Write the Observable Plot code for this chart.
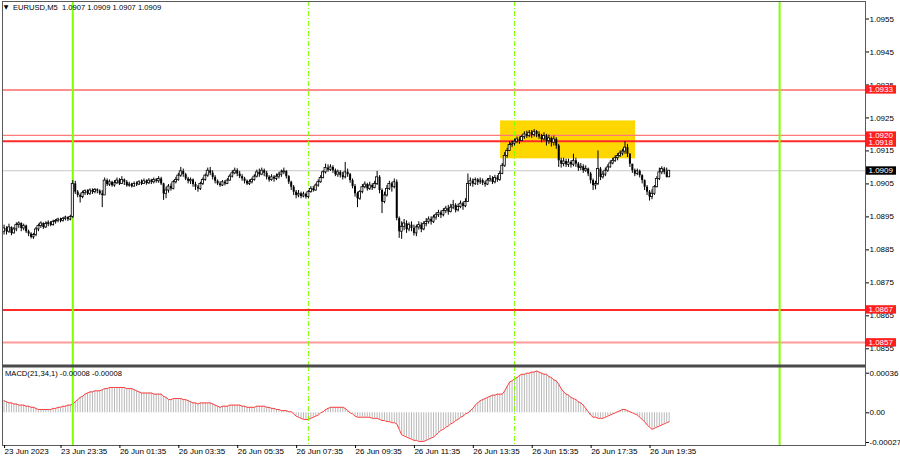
<!DOCTYPE html>
<html><head><meta charset="utf-8">
<script src="https://cdn.jsdelivr.net/npm/d3@7"></script>
<script src="https://cdn.jsdelivr.net/npm/@observablehq/plot@0.6"></script>
<style>
html,body{margin:0;padding:0;background:#fff;}
#wrap{position:relative;width:900px;height:460px;overflow:hidden;}
#wrap svg{display:block;}
</style></head><body><div id="wrap"></div>
<script>
// ---- data: EURUSD M5 bars (bar index 0 = 23 Jun 21:40) ----
const open = [
1.08905,1.08915,1.08905,1.08918,1.08900,1.08912,1.08925,1.08930,1.08915,1.08922,
1.08905,1.08898,1.08888,1.08895,1.08912,1.08922,1.08930,1.08918,1.08928,1.08932,
1.08925,1.08935,1.08938,1.08942,1.08938,1.08944,1.08948,1.08942,1.08950,1.09050,
1.09025,1.09015,1.09010,1.09022,1.09028,1.09020,1.09030,1.09025,1.09032,1.09028,
1.09020,1.09015,1.09060,1.09048,1.09055,1.09045,1.09052,1.09060,1.09050,1.09062,
1.09055,1.09045,1.09048,1.09042,1.09050,1.09048,1.09055,1.09050,1.09058,1.09052,
1.09060,1.09055,1.09062,1.09058,1.09065,1.09050,1.09020,1.09030,1.09042,1.09035,
1.09055,1.09062,1.09075,1.09088,1.09078,1.09065,1.09058,1.09062,1.09048,1.09040,
1.09035,1.09050,1.09062,1.09075,1.09090,1.09082,1.09070,1.09058,1.09050,1.09045,
1.09055,1.09050,1.09060,1.09072,1.09082,1.09090,1.09080,1.09072,1.09065,1.09058,
1.09050,1.09055,1.09062,1.09072,1.09085,1.09078,1.09090,1.09082,1.09070,1.09062,
1.09070,1.09065,1.09072,1.09078,1.09085,1.09088,1.09072,1.09055,1.09040,1.09025,
1.09015,1.09020,1.09012,1.09018,1.09010,1.09025,1.09035,1.09030,1.09045,1.09055,
1.09068,1.09085,1.09098,1.09092,1.09100,1.09090,1.09078,1.09085,1.09075,1.09070,
1.09085,1.09078,1.09060,1.09042,1.09020,1.09005,1.09025,1.09040,1.09048,1.09035,
1.09045,1.09038,1.09050,1.09070,1.09030,1.08995,1.09015,1.09035,1.09050,1.09040,
1.09055,1.08945,1.08905,1.08920,1.08930,1.08912,1.08925,1.08915,1.08900,1.08918,
1.08925,1.08912,1.08928,1.08935,1.08942,1.08935,1.08948,1.08955,1.08962,1.08955,
1.08968,1.08975,1.08965,1.08978,1.08985,1.08970,1.08980,1.08990,1.08982,1.08995,
1.09050,1.09058,1.09050,1.09062,1.09055,1.09060,1.09052,1.09048,1.09060,1.09065,
1.09055,1.09068,1.09062,1.09080,1.09105,1.09135,1.09150,1.09168,1.09172,1.09178,
1.09185,1.09180,1.09192,1.09200,1.09195,1.09205,1.09198,1.09208,1.09200,1.09192,
1.09185,1.09195,1.09180,1.09188,1.09175,1.09185,1.09165,1.09120,1.09110,1.09118,
1.09108,1.09115,1.09108,1.09120,1.09110,1.09098,1.09102,1.09090,1.09095,1.09080,
1.09060,1.09045,1.09050,1.09095,1.09070,1.09078,1.09090,1.09100,1.09112,1.09120,
1.09128,1.09135,1.09142,1.09148,1.09160,1.09140,1.09110,1.09090,1.09080,1.09088,
1.09075,1.09060,1.09040,1.09025,1.09010,1.09020,1.09040,1.09065,1.09085,1.09095,
1.09085,1.09070];
const high = [
1.08925,1.08920,1.08928,1.08920,1.08918,1.08932,1.08935,1.08932,1.08928,1.08925,
1.08910,1.08902,1.08900,1.08918,1.08928,1.08935,1.08932,1.08935,1.08938,1.08936,
1.08940,1.08942,1.08946,1.08946,1.08948,1.08952,1.08950,1.08955,1.09060,1.09058,
1.09030,1.09020,1.09028,1.09032,1.09032,1.09035,1.09035,1.09036,1.09035,1.09032,
1.09030,1.09068,1.09065,1.09062,1.09058,1.09060,1.09068,1.09066,1.09072,1.09065,
1.09060,1.09055,1.09052,1.09056,1.09056,1.09060,1.09062,1.09065,1.09062,1.09066,
1.09064,1.09068,1.09066,1.09072,1.09070,1.09052,1.09040,1.09048,1.09050,1.09060,
1.09070,1.09082,1.09100,1.09095,1.09082,1.09070,1.09068,1.09065,1.09055,1.09045,
1.09055,1.09068,1.09080,1.09098,1.09100,1.09090,1.09075,1.09062,1.09056,1.09060,
1.09060,1.09066,1.09078,1.09090,1.09098,1.09096,1.09088,1.09078,1.09070,1.09062,
1.09062,1.09068,1.09078,1.09092,1.09095,1.09098,1.09095,1.09088,1.09075,1.09078,
1.09075,1.09080,1.09085,1.09092,1.09098,1.09090,1.09075,1.09058,1.09045,1.09030,
1.09030,1.09025,1.09025,1.09022,1.09030,1.09042,1.09042,1.09050,1.09062,1.09075,
1.09090,1.09110,1.09108,1.09108,1.09105,1.09095,1.09092,1.09090,1.09085,1.09115,
1.09095,1.09082,1.09065,1.09048,1.09025,1.09030,1.09048,1.09056,1.09052,1.09055,
1.09050,1.09058,1.09088,1.09075,1.09035,1.09025,1.09045,1.09058,1.09055,1.09065,
1.09062,1.08950,1.08935,1.08942,1.08938,1.08932,1.08935,1.08925,1.08925,1.08935,
1.08932,1.08935,1.08945,1.08950,1.08950,1.08955,1.08962,1.08970,1.08968,1.08975,
1.08982,1.08985,1.08988,1.09000,1.08990,1.08988,1.08998,1.08995,1.09005,1.09080,
1.09068,1.09065,1.09068,1.09066,1.09068,1.09065,1.09058,1.09066,1.09075,1.09072,
1.09076,1.09075,1.09088,1.09112,1.09145,1.09158,1.09178,1.09180,1.09186,1.09192,
1.09192,1.09198,1.09208,1.09210,1.09212,1.09212,1.09215,1.09212,1.09208,1.09200,
1.09205,1.09200,1.09198,1.09192,1.09195,1.09190,1.09170,1.09128,1.09128,1.09125,
1.09125,1.09120,1.09140,1.09128,1.09115,1.09112,1.09108,1.09105,1.09098,1.09085,
1.09065,1.09058,1.09150,1.09100,1.09088,1.09098,1.09108,1.09120,1.09128,1.09135,
1.09142,1.09150,1.09155,1.09178,1.09170,1.09142,1.09108,1.09095,1.09095,1.09092,
1.09078,1.09062,1.09045,1.09030,1.09032,1.09045,1.09072,1.09098,1.09102,1.09100,
1.09098,1.09090];
const low = [
1.08895,1.08895,1.08900,1.08893,1.08898,1.08905,1.08915,1.08905,1.08908,1.08900,
1.08890,1.08883,1.08882,1.08890,1.08905,1.08915,1.08912,1.08915,1.08920,1.08920,
1.08922,1.08928,1.08932,1.08932,1.08934,1.08938,1.08936,1.08938,1.08945,1.09018,
1.09008,1.08992,1.09005,1.09015,1.09015,1.09015,1.09018,1.09020,1.09020,1.09015,
1.08978,1.09015,1.09042,1.09042,1.09040,1.09040,1.09048,1.09045,1.09048,1.09045,
1.09040,1.09040,1.09038,1.09040,1.09042,1.09045,1.09045,1.09048,1.09046,1.09048,
1.09048,1.09050,1.09052,1.09052,1.09045,1.09000,1.09005,1.09022,1.09028,1.09032,
1.09050,1.09058,1.09070,1.09070,1.09060,1.09050,1.09048,1.09040,1.09030,1.09025,
1.09030,1.09045,1.09058,1.09070,1.09075,1.09062,1.09050,1.09045,1.09040,1.09042,
1.09044,1.09048,1.09058,1.09068,1.09078,1.09072,1.09066,1.09058,1.09050,1.09045,
1.09045,1.09050,1.09058,1.09068,1.09070,1.09075,1.09072,1.09062,1.09055,1.09058,
1.09055,1.09060,1.09065,1.09070,1.09078,1.09065,1.09048,1.09030,1.09015,1.09005,
1.09008,1.09005,1.09008,1.09004,1.09005,1.09022,1.09025,1.09028,1.09040,1.09052,
1.09065,1.09080,1.09085,1.09088,1.09082,1.09072,1.09070,1.09068,1.09062,1.09065,
1.09070,1.09052,1.09035,1.09010,1.08978,1.09000,1.09020,1.09035,1.09028,1.09030,
1.09030,1.09035,1.09045,1.09020,1.08960,1.08990,1.09010,1.09030,1.09025,1.09035,
1.08938,1.08885,1.08882,1.08908,1.08900,1.08905,1.08905,1.08892,1.08890,1.08910,
1.08902,1.08908,1.08920,1.08928,1.08925,1.08930,1.08940,1.08948,1.08945,1.08950,
1.08960,1.08955,1.08962,1.08972,1.08962,1.08965,1.08975,1.08970,1.08978,1.08995,
1.09042,1.09040,1.09045,1.09045,1.09048,1.09045,1.09040,1.09045,1.09055,1.09048,
1.09050,1.09055,1.09058,1.09078,1.09100,1.09128,1.09148,1.09160,1.09165,1.09172,
1.09170,1.09178,1.09185,1.09188,1.09190,1.09188,1.09192,1.09190,1.09185,1.09175,
1.09180,1.09165,1.09170,1.09162,1.09165,1.09155,1.09100,1.09098,1.09102,1.09100,
1.09100,1.09098,1.09102,1.09100,1.09088,1.09090,1.09082,1.09085,1.09072,1.09050,
1.09030,1.09032,1.09045,1.09060,1.09065,1.09072,1.09085,1.09098,1.09108,1.09115,
1.09120,1.09130,1.09135,1.09140,1.09130,1.09100,1.09082,1.09072,1.09075,1.09068,
1.09050,1.09030,1.09015,1.08998,1.09002,1.09015,1.09038,1.09060,1.09078,1.09078,
1.09068,1.09070];
const close = [
1.08915,1.08905,1.08918,1.08900,1.08912,1.08925,1.08930,1.08915,1.08922,1.08905,
1.08898,1.08888,1.08895,1.08912,1.08922,1.08930,1.08918,1.08928,1.08932,1.08925,
1.08935,1.08938,1.08942,1.08938,1.08944,1.08948,1.08942,1.08950,1.09050,1.09025,
1.09015,1.09010,1.09022,1.09028,1.09020,1.09030,1.09025,1.09032,1.09028,1.09020,
1.09015,1.09060,1.09048,1.09055,1.09045,1.09052,1.09060,1.09050,1.09062,1.09055,
1.09045,1.09048,1.09042,1.09050,1.09048,1.09055,1.09050,1.09058,1.09052,1.09060,
1.09055,1.09062,1.09058,1.09065,1.09050,1.09020,1.09030,1.09042,1.09035,1.09055,
1.09062,1.09075,1.09088,1.09078,1.09065,1.09058,1.09062,1.09048,1.09040,1.09035,
1.09050,1.09062,1.09075,1.09090,1.09082,1.09070,1.09058,1.09050,1.09045,1.09055,
1.09050,1.09060,1.09072,1.09082,1.09090,1.09080,1.09072,1.09065,1.09058,1.09050,
1.09055,1.09062,1.09072,1.09085,1.09078,1.09090,1.09082,1.09070,1.09062,1.09070,
1.09065,1.09072,1.09078,1.09085,1.09088,1.09072,1.09055,1.09040,1.09025,1.09015,
1.09020,1.09012,1.09018,1.09010,1.09025,1.09035,1.09030,1.09045,1.09055,1.09068,
1.09085,1.09098,1.09092,1.09100,1.09090,1.09078,1.09085,1.09075,1.09070,1.09085,
1.09078,1.09060,1.09042,1.09020,1.09005,1.09025,1.09040,1.09048,1.09035,1.09045,
1.09038,1.09050,1.09070,1.09030,1.08995,1.09015,1.09035,1.09050,1.09040,1.09055,
1.08945,1.08905,1.08920,1.08930,1.08912,1.08925,1.08915,1.08900,1.08918,1.08925,
1.08912,1.08928,1.08935,1.08942,1.08935,1.08948,1.08955,1.08962,1.08955,1.08968,
1.08975,1.08965,1.08978,1.08985,1.08970,1.08980,1.08990,1.08982,1.08995,1.09050,
1.09058,1.09050,1.09062,1.09055,1.09060,1.09052,1.09048,1.09060,1.09065,1.09055,
1.09068,1.09062,1.09080,1.09105,1.09135,1.09150,1.09168,1.09172,1.09178,1.09185,
1.09180,1.09192,1.09200,1.09195,1.09205,1.09198,1.09208,1.09200,1.09192,1.09185,
1.09195,1.09180,1.09188,1.09175,1.09185,1.09165,1.09120,1.09110,1.09118,1.09108,
1.09115,1.09108,1.09120,1.09110,1.09098,1.09102,1.09090,1.09095,1.09080,1.09060,
1.09045,1.09050,1.09095,1.09070,1.09078,1.09090,1.09100,1.09112,1.09120,1.09128,
1.09135,1.09142,1.09148,1.09160,1.09140,1.09110,1.09090,1.09080,1.09088,1.09075,
1.09060,1.09040,1.09025,1.09010,1.09020,1.09040,1.09065,1.09085,1.09095,1.09085,
1.09070,1.09090];
// MACD(21,34,1) main value per bar (signal SMA(1) equals it)
const macd = [
0.00011,0.00010,0.00009,0.00009,0.00008,0.00008,0.00007,0.00007,0.00007,0.00006,
0.00006,0.00005,0.00005,0.00004,0.00003,0.00003,0.00003,0.00003,0.00003,0.00003,
0.00004,0.00004,0.00005,0.00005,0.00006,0.00006,0.00007,0.00007,0.00008,0.00010,
0.00012,0.00014,0.00015,0.00017,0.00018,0.00019,0.00019,0.00020,0.00020,0.00020,
0.00021,0.00022,0.00022,0.00023,0.00023,0.00023,0.00023,0.00023,0.00023,0.00023,
0.00022,0.00022,0.00022,0.00021,0.00020,0.00019,0.00018,0.00018,0.00018,0.00018,
0.00018,0.00017,0.00017,0.00017,0.00017,0.00015,0.00014,0.00012,0.00012,0.00013,
0.00013,0.00013,0.00013,0.00012,0.00012,0.00011,0.00010,0.00009,0.00009,0.00008,
0.00009,0.00009,0.00009,0.00009,0.00009,0.00008,0.00007,0.00006,0.00005,0.00006,
0.00006,0.00006,0.00007,0.00007,0.00007,0.00007,0.00007,0.00006,0.00006,0.00005,
0.00005,0.00005,0.00005,0.00006,0.00006,0.00006,0.00006,0.00005,0.00005,0.00004,
0.00004,0.00003,0.00003,0.00002,0.00002,0.00002,0.00001,0.00001,-0.00001,-0.00003,
-0.00004,-0.00005,-0.00006,-0.00006,-0.00006,-0.00005,-0.00004,-0.00003,-0.00002,0.00000,
0.00001,0.00003,0.00004,0.00005,0.00005,0.00005,0.00005,0.00005,0.00005,0.00004,
0.00002,0.00000,-0.00001,-0.00003,-0.00004,-0.00004,-0.00004,-0.00004,-0.00004,-0.00004,
-0.00005,-0.00005,-0.00005,-0.00006,-0.00007,-0.00007,-0.00008,-0.00008,-0.00009,-0.00009,
-0.00010,-0.00015,-0.00020,-0.00021,-0.00022,-0.00023,-0.00024,-0.00025,-0.00025,-0.00026,
-0.00026,-0.00026,-0.00025,-0.00024,-0.00023,-0.00022,-0.00020,-0.00018,-0.00016,-0.00015,
-0.00013,-0.00012,-0.00010,-0.00009,-0.00007,-0.00006,-0.00004,-0.00003,-0.00001,0.00000,
0.00002,0.00004,0.00007,0.00009,0.00011,0.00012,0.00013,0.00014,0.00015,0.00016,
0.00016,0.00017,0.00017,0.00017,0.00020,0.00024,0.00028,0.00029,0.00031,0.00032,
0.00034,0.00035,0.00035,0.00036,0.00036,0.00037,0.00037,0.00038,0.00037,0.00036,
0.00035,0.00035,0.00033,0.00032,0.00030,0.00029,0.00026,0.00022,0.00019,0.00017,
0.00016,0.00014,0.00013,0.00012,0.00010,0.00009,0.00007,0.00004,0.00001,-0.00002,
-0.00004,-0.00004,-0.00005,-0.00005,-0.00005,-0.00004,-0.00003,-0.00002,-0.00001,0.00000,
0.00001,0.00002,0.00003,0.00003,0.00002,0.00001,0.00000,-0.00001,-0.00002,-0.00004,
-0.00006,-0.00008,-0.00011,-0.00013,-0.00015,-0.00014,-0.00013,-0.00012,-0.00011,-0.00010,
-0.00009,-0.00008];

const priceTicks = [1.0955,1.0945,1.0935,1.0925,1.0915,1.0905,1.0895,1.0885,1.0875,1.0865,1.0855];
const timeTickBars = [0,23,47,71,95,119,143,167,191,215,239,263];
const timeTickLabels = ["23 Jun 2023","23 Jun 23:35","26 Jun 01:35","26 Jun 03:35","26 Jun 05:35","26 Jun 07:35","26 Jun 09:35","26 Jun 11:35","26 Jun 13:35","26 Jun 15:35","26 Jun 17:35","26 Jun 19:35"];
const macdTicks = [0.00036, 0, -0.00027];
const macdTickLabels = ["0.00036","0.00","-0.00027"];
const levelPrices = [1.09335, 1.09197, 1.09179, 1.08668, 1.08569];
const levelLabels = ["1.0933","1.0920","1.0918","1.0867","1.0857"];
const bidPrice = 1.09090, bidLabel = "1.0909";
const dayStartBars = [28, 316];     // 26 Jun 00:00, 27 Jun 00:00
const sessionBars = [124, 208];     // 26 Jun 08:00, 26 Jun 15:00
const boxBars = [202.3, 257.3];
const boxPrices = [1.09126, 1.09241];
const titleText = "EURUSD,M5  1.0907 1.0909 1.0907 1.0909";
const macdTitle = "MACD(21,34,1) -0.00008 -0.00008";

// ---- build ----
const bars = close.map((c, i) => ({i, o: open[i], h: high[i], l: low[i], c, m: macd[i]}));
const bull = bars.filter(d => d.c > d.o), bear = bars.filter(d => d.c < d.o);
const X_DOMAIN = [-0.64, 351.0];
const FONT = "'Liberation Sans', Arial, sans-serif";
const GREEN = "#7fff00";
const levelStyle = [
  {stroke: "#ff6a6a", w: 1.5}, {stroke: "#ff7a7a", w: 1.2}, {stroke: "#ff2a2a", w: 2},
  {stroke: "#ff2a2a", w: 2}, {stroke: "#ff9a9a", w: 2}];
const tagOffsets = [0, 0.7, 1.7, 0, 0.3];

function tagMark(tags) {
  return (index, scales, values, dims) => {
    const g = d3.create("svg:g").attr("font-family", FONT).attr("font-size", 8).attr("text-anchor", "start");
    const x0 = dims.width - dims.marginRight + 1;
    for (const t of tags) {
      const yc = scales.y(t.p) + t.dy;
      g.append("rect").attr("x", x0).attr("y", yc - 4.2).attr("width", 30).attr("height", 8.4).attr("fill", t.bg);
      g.append("text").attr("x", x0 + 2.5).attr("y", yc).attr("dy", "0.35em").attr("text-anchor", "start").attr("fill", "#fff").text(t.text);
    }
    return g.node();
  };
}
const tags = levelPrices.map((p, k) => ({p, text: levelLabels[k], bg: "#ff1f1f", dy: tagOffsets[k]}));
tags.push({p: bidPrice, text: bidLabel, bg: "#000", dy: 0.3});

const mainPlot = Plot.plot({
  width: 900, height: 366,
  marginLeft: 2, marginRight: 35, marginTop: 1, marginBottom: 1,
  style: {fontFamily: FONT, fontSize: "8px", background: "#fff", color: "#000", overflow: "visible"},
  x: {domain: X_DOMAIN, axis: null},
  y: {domain: [1.084994, 1.096031], axis: null},
  marks: [
    Plot.rect([0], {x1: () => boxBars[0], x2: () => boxBars[1], y1: () => boxPrices[0], y2: () => boxPrices[1], fill: "#ffd700"}),
    Plot.ruleY([bidPrice], {stroke: "#c8c8c8"}),
    ...levelPrices.map((p, k) => Plot.ruleY([p], {stroke: levelStyle[k].stroke, strokeWidth: levelStyle[k].w})),
    Plot.ruleX(dayStartBars, {stroke: GREEN, strokeWidth: 2}),
    Plot.ruleX(sessionBars, {stroke: GREEN, strokeWidth: 1, strokeDasharray: "5,2,1,2"}),
    Plot.ruleX(bars, {x: "i", y1: "l", y2: "h", stroke: "#000", strokeWidth: 1}),
    Plot.ruleX(bear, {x: "i", y1: "o", y2: "c", stroke: "#000", strokeWidth: 2}),
    Plot.rect(bull, {x1: d => d.i - 0.42, x2: d => d.i + 0.42, y1: "o", y2: "c", fill: "#fff", stroke: "#000", strokeWidth: 0.8}),
    Plot.frame({stroke: "#5a5a5a"}),
    Plot.ruleY([1.084994], {stroke: "#4a4a4a", strokeWidth: 2}),
    Plot.axisY({anchor: "right", ticks: priceTicks, tickFormat: d => d.toFixed(4), tickSize: 3, tickPadding: 1, fontSize: 8, label: null}),
    tagMark(tags),
    Plot.text(["\u25BC"], {frameAnchor: "top-left", dx: 3.5, dy: 5.5, textAnchor: "middle", lineAnchor: "middle", fontSize: 6, fontFamily: "DejaVu Sans", fill: "#000"}),
    Plot.text([titleText], {frameAnchor: "top-left", dx: 10.5, dy: 5.8, textAnchor: "start", lineAnchor: "middle", fontSize: 7.6, fill: "#000"})
  ]
});

const macdPlot = Plot.plot({
  width: 900, height: 94,
  marginLeft: 2, marginRight: 35, marginTop: 0, marginBottom: 15,
  style: {fontFamily: FONT, fontSize: "8px", background: "#fff", color: "#000", overflow: "visible"},
  x: {domain: X_DOMAIN},
  y: {domain: [-0.000297, 0.000421]},
  marks: [
    Plot.ruleX(bars, {x: "i", y1: 0, y2: "m", stroke: "#b8b8b8", strokeWidth: 1}),
    Plot.line(bars, {x: "i", y: "m", stroke: "#ff3c3c", strokeWidth: 1}),
    Plot.ruleX(dayStartBars, {stroke: GREEN, strokeWidth: 2}),
    Plot.ruleX(sessionBars, {stroke: GREEN, strokeWidth: 1, strokeDasharray: "5,2,1,2"}),
    Plot.frame({stroke: "#5a5a5a"}),
    Plot.ruleY([0.000421], {stroke: "#4a4a4a", strokeWidth: 2}),
    Plot.axisY({anchor: "right", ticks: macdTicks, tickFormat: d => macdTickLabels[macdTicks.indexOf(d)], tickSize: 3, tickPadding: 1, fontSize: 8, label: null}),
    Plot.axisX({anchor: "bottom", ticks: timeTickBars, tickFormat: d => timeTickLabels[timeTickBars.indexOf(d)], tickSize: 3, tickPadding: 0, textAnchor: "start", dx: 0.5, fontSize: 8, label: null}),
    Plot.text([macdTitle], {frameAnchor: "top-left", dx: 2.5, dy: 7, textAnchor: "start", lineAnchor: "middle", fontSize: 7.6, fill: "#000"})
  ]
});

const wrap = document.getElementById("wrap");
wrap.appendChild(mainPlot);
wrap.appendChild(macdPlot);
</script>
</body></html>
